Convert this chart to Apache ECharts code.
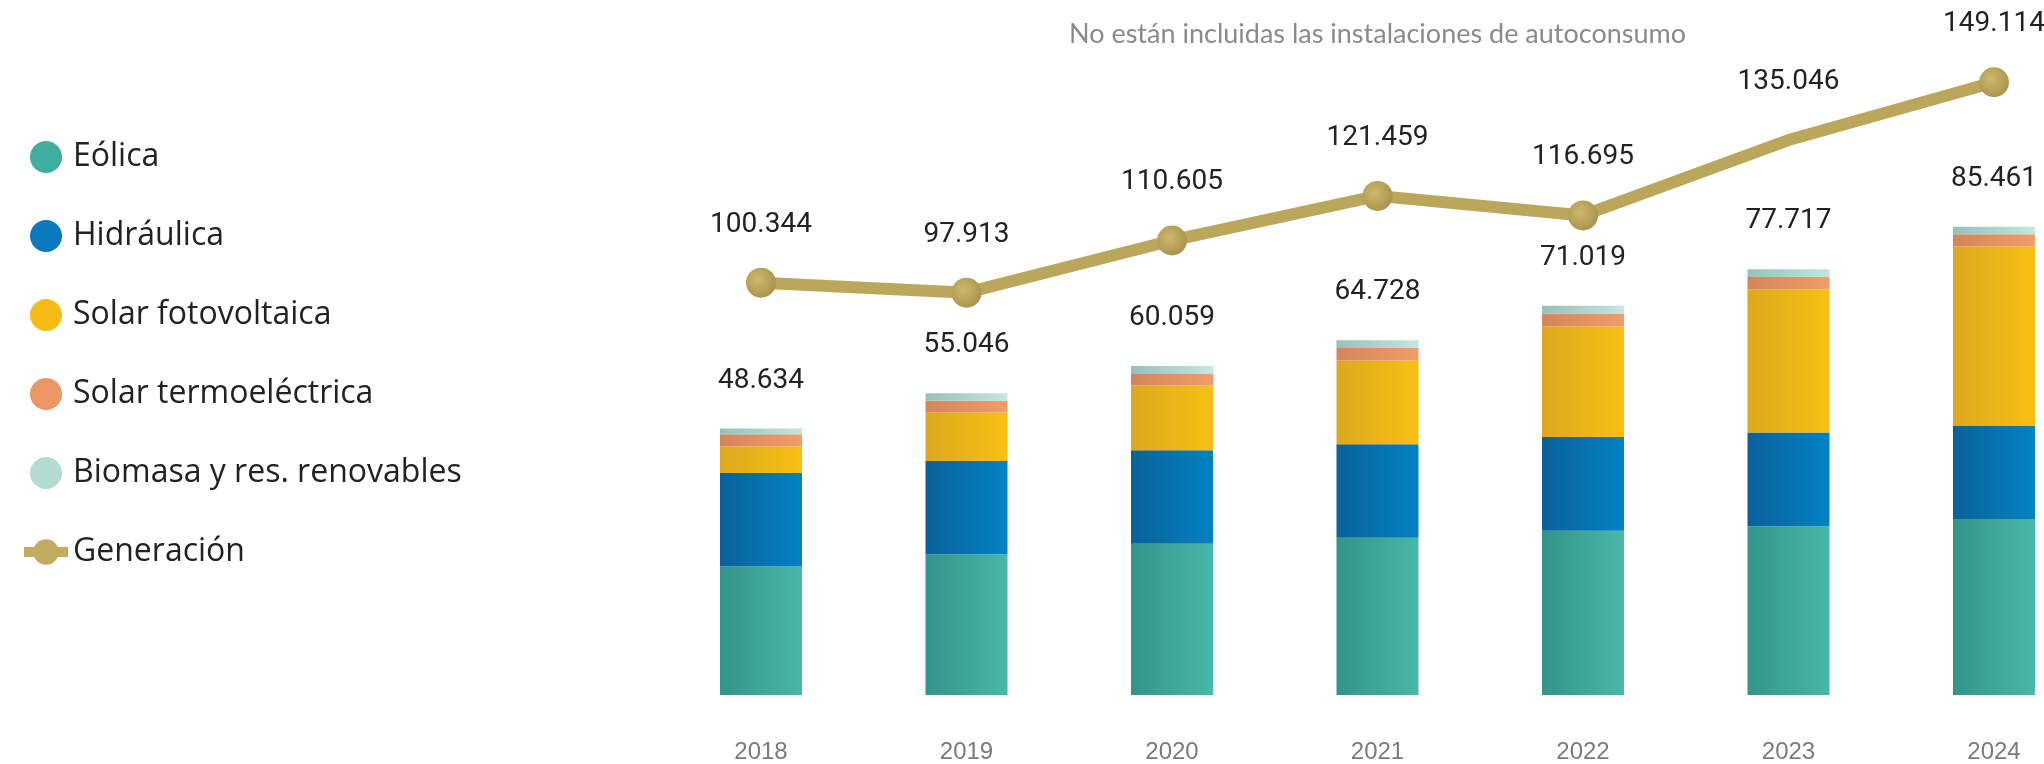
<!DOCTYPE html>
<html>
<head>
<meta charset="utf-8">
<script src="https://cdn.jsdelivr.net/npm/echarts@6/dist/echarts.min.js"></script>
<style>
  html, body { margin: 0; padding: 0; background: #ffffff; }
  #chart { width: 2044px; height: 764px; }
</style>
</head>
<body>
<div id="chart"></div>
<script>
// ---- Data (thousand MW / GWh as in the reference labels) ----
const years = ['2018', '2019', '2020', '2021', '2022', '2023', '2024'];
const eolica = [23.45, 25.70, 27.60, 28.70, 30.00, 30.80, 32.10];
const hidraulica = [17.05, 17.00, 17.05, 17.05, 17.10, 17.10, 17.10];
const solarFV = [4.85, 8.85, 11.85, 15.30, 20.15, 26.15, 32.65];
const solarTermo = [2.25, 2.15, 2.10, 2.30, 2.40, 2.25, 2.25];
const biomasa = [1.03, 1.35, 1.45, 1.38, 1.37, 1.42, 1.36];
const totals = ['48.634', '55.046', '60.059', '64.728', '71.019', '77.717', '85.461'];
const generacion = [100.344, 97.913, 110.605, 121.459, 116.695, 135.046, 149.114];
const generacionLabels = ['100.344', '97.913', '110.605', '121.459', '116.695', '135.046', '149.114'];
const hiddenMarkerYears = ['2023'];
const noteText = 'No están incluidas las instalaciones de autoconsumo';

const chart = echarts.init(document.getElementById('chart'), null, { renderer: 'canvas' });

function grad(c1, c2) {
  return new echarts.graphic.LinearGradient(0, 0, 1, 0, [
    { offset: 0, color: c1 }, { offset: 1, color: c2 }
  ]);
}

const barDefs = [
  { name: 'Eólica', data: eolica, c1: '#33948a', c2: '#48b8a8', legend: '#3fae9f' },
  { name: 'Hidráulica', data: hidraulica, c1: '#0a6198', c2: '#0482c4', legend: '#0b79bd' },
  { name: 'Solar fotovoltaica', data: solarFV, c1: '#dda81e', c2: '#f8c014', legend: '#f6bc15' },
  { name: 'Solar termoeléctrica', data: solarTermo, c1: '#d5855a', c2: '#f09d68', legend: '#ec9565' },
  { name: 'Biomasa y res. renovables', data: biomasa, c1: '#98c0b9', c2: '#c6e5de', legend: '#b4dcd3' }
];

const lineColor = '#bba75c';
const markerGrad = new echarts.graphic.RadialGradient(0.4, 0.4, 0.7, [
  { offset: 0, color: '#cdb96e' }, { offset: 1, color: '#a68f48' }
]);

const series = barDefs.map((d, i) => ({
  name: d.name,
  type: 'bar',
  stack: 'total',
  yAxisIndex: 0,
  barWidth: 82,
  clip: false,
  itemStyle: { color: grad(d.c1, d.c2) },
  label: i === barDefs.length - 1 ? {
    show: true,
    position: 'top',
    distance: 34,
    fontFamily: 'Roboto',
    fontSize: 28,
    color: '#222222',
    formatter: p => totals[p.dataIndex]
  } : { show: false },
  emphasis: { disabled: true },
  data: d.data
}));

series.push({
  name: 'Generación',
  type: 'line',
  yAxisIndex: 1,
  clip: false,
  z: 5,
  symbol: 'circle',
  symbolSize: 30,
  lineStyle: { width: 12, color: lineColor },
  itemStyle: { color: markerGrad },
  label: {
    show: true,
    position: 'top',
    distance: 29,
    fontFamily: 'Roboto',
    fontSize: 28,
    color: '#222222',
    formatter: p => generacionLabels[p.dataIndex]
  },
  emphasis: { disabled: true },
  data: generacion.map((v, i) => hiddenMarkerYears.includes(years[i])
    ? { value: v, itemStyle: { color: 'rgba(0,0,0,0)' } }
    : v)
});

const legendData = barDefs.map(d => ({
  name: d.name, icon: 'circle', itemStyle: { color: d.legend }
}));
legendData.push({
  name: 'Generación',
  itemStyle: { color: '#c0ab60' },
  lineStyle: { width: 10, color: '#c0ab60' }
});

chart.setOption({
  animation: false,
  backgroundColor: '#ffffff',
  title: {
    text: noteText,
    left: 1064,
    top: 16,
    textStyle: { fontFamily: 'Lato', fontSize: 27, fontWeight: 'normal', color: '#8a8a8a' }
  },
  legend: {
    orient: 'vertical',
    left: 14,
    top: 136,
    itemWidth: 44,
    itemHeight: 32,
    itemGap: 47,
    selectedMode: false,
    textStyle: { fontFamily: 'Open Sans', fontSize: 32, color: '#222222' },
    data: legendData
  },
  grid: { left: 761, right: 50, top: 37.5, bottom: 67 },
  xAxis: {
    type: 'category',
    data: years,
    boundaryGap: false,
    axisLine: { show: false },
    axisTick: { show: false },
    splitLine: { show: false },
    axisLabel: { margin: 45, fontFamily: 'Liberation Sans', fontSize: 24, color: '#7a7a7a' }
  },
  yAxis: [
    { type: 'value', min: 0, max: 120, show: false, splitLine: { show: false } },
    { type: 'value', min: 0, max: 160, show: false, splitLine: { show: false } }
  ],
  series: series
});
</script>
</body>
</html>
